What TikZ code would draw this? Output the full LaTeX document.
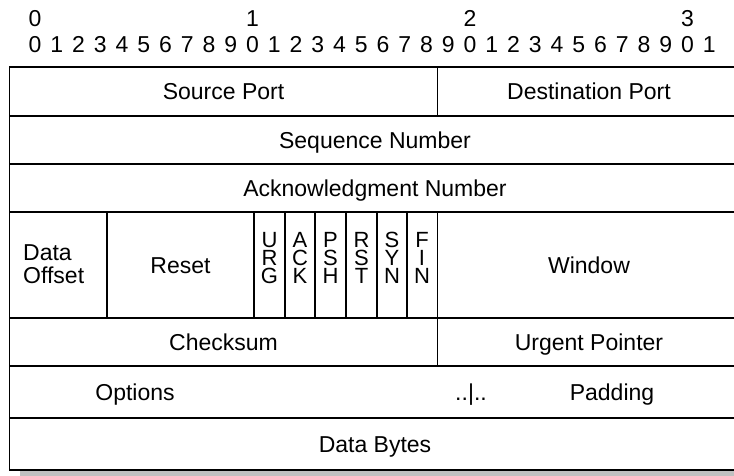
\documentclass[tikz,border=0pt]{standalone}
\usepackage{fontspec}
\setmainfont{Liberation Sans}
\definecolor{shadowgray}{HTML}{C0C0C0}
\tikzset{
  field/.style={
    inner sep=0pt, font=\fontsize{23}{26}\selectfont,
    text height=16.5pt, text depth=0pt
  },
  twoline/.style={
    inner sep=0pt, align=left, font=\fontsize{23}{23}\selectfont
  },
  flagbit/.style={
    inner sep=0pt, font=\fontsize{22}{24}\selectfont,
    text height=15.5pt, text depth=0pt
  },
  bitnum/.style={
    inner sep=0pt, font=\fontsize{23}{26}\selectfont,
    text height=16.5pt, text depth=0pt
  },
  rule/.style={line width=1.5pt},
}

\begin{document}
\begin{tikzpicture}[x=1pt, y=-1pt]
  \useasboundingbox (0,0) rectangle (734,476);
  \fill[shadowgray] (20,77) rectangle (750,480);
  \fill[white] (9.5,67) rectangle (740,470);
  \draw[rule] (9.5,67) rectangle (740,470);
  \foreach \y in {116,164,212,318,366,418}
    \draw[rule] (9.5,\y) -- (740,\y);
  \draw[rule] (437.5,67) -- (437.5,116);
  \draw[rule] (437.5,318) -- (437.5,366);
  \foreach \x in {107,254,285,315,346,377,407,437.5}
    \draw[rule] (\x,212) -- (\x,318);

  \foreach \t in {0,1,2,3}
    \node[bitnum] (ten\t) at (35+217.5*\t,18) {\t};
  \foreach \i in {0,...,31} {
    \pgfmathtruncatemacro\d{mod(\i,10)}
    \node[bitnum] (bit\i) at (35+21.75*\i,44) {\d};
  }

  \node[field] (srcport) at (223.5,91.5) {Source Port};
  \node[field] (dstport) at (589,91.5) {Destination Port};
  \node[field] (seqnum) at (375,140) {Sequence Number};
  \node[field] (acknum) at (375,188) {Acknowledgment Number};
  \node[twoline, anchor=west] (offset) at (23,264) {Data\\Offset};
  \node[field] (reset) at (180.5,265) {Reset};
  \foreach \name/\x/\a/\b/\c in {urg/269.5/U/R/G, ack/300/A/C/K,
      psh/330.5/P/S/H, rst/361.5/R/S/T, syn/392/S/Y/N, fin/422/F/I/N} {
    \node[flagbit] (\name a) at (\x,239.5) {\a};
    \node[flagbit] (\name b) at (\x,257.5) {\b};
    \node[flagbit] (\name c) at (\x,275.5) {\c};
  }
  \node[field] (window) at (589,265) {Window};
  \node[field] (checksum) at (223.5,342) {Checksum};
  \node[field] (urgptr) at (589,342) {Urgent Pointer};
  \node[field] (options) at (135,392) {Options};
  \node[field] (sep) at (471,392) {..|..};
  \node[field] (padding) at (612,392) {Padding};
  \node[field] (data) at (375,444) {Data Bytes};
\end{tikzpicture}
\end{document}
